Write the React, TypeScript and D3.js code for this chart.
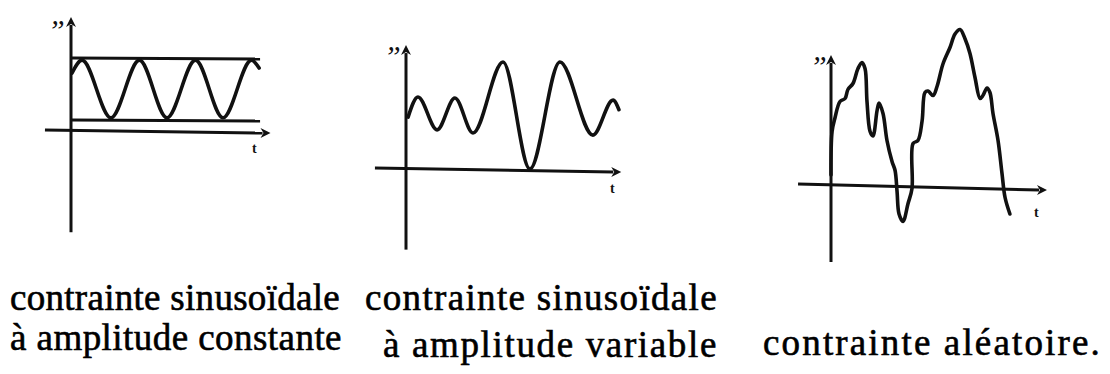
import React, { useLayoutEffect, useRef, useState } from "react";
import * as d3 from "d3";

// Three sketches of stress (σ) against time (t).

// 1) constant-amplitude sinusoid: extrema
const constTimes = [0.05, 0.58, 2.1, 3.6, 5.05, 6.55, 8.0, 9.5, 9.9];
const constStress = [7.9, 9.7, 1.7, 9.7, 1.7, 9.7, 1.7, 9.7, 8.6];
const constEnvelope = [10, 1.4]; // σmax, σmin
const envelopeSpan = [0.05, 9.95];

// 2) variable-amplitude sinusoid
const varTimes = [0.1, 0.57, 1.48, 2.33, 3.19, 4.62, 5.9, 7.33, 8.9, 9.86, 10.14];
const varStress = [4.8, 6.7, 3.6, 6.6, 3.3, 10, -0.1, 10, 3.1, 6.4, 5.5];

// 3) random loading
const randTimes = [
  0.0, 0.06, 0.22, 0.5, 0.78, 0.94, 1.22, 1.5, 1.72, 1.89, 2.0, 2.17, 2.33, 2.56,
  2.67, 2.89, 3.11, 3.39, 3.56, 3.67, 3.78, 4.0, 4.28, 4.5, 4.56, 4.83, 5.06, 5.22,
  5.39, 5.67, 5.89, 6.22, 6.61, 6.89, 7.17, 7.44, 7.72, 8.0, 8.28, 8.44, 8.67, 8.83,
  9.0, 9.28, 9.5, 9.67, 9.94,
];
const randStress = [
  0.6, 3.5, 4.4, 5.5, 5.7, 6.3, 6.7, 7.7, 8.1, 7.7, 5.5, 3.5, 3.2, 4.9,
  5.4, 4.7, 2.9, 1.5, 0.9, -0.5, -2.0, -2.5, -1.3, -0.3, 2.7, 2.9, 4.2, 6.1,
  6.2, 5.9, 6.5, 8.0, 9.1, 10.0, 10.3, 9.7, 8.7, 7.1, 5.7, 5.9, 6.4, 6.1,
  4.7, 2.9, 0.7, -0.9, -2.0,
];

const captionsConst = ["contrainte sinusoïdale", "à amplitude constante"];
const captionsVar = ["contrainte sinusoïdale", "à amplitude variable"];
const captionsRand = ["contrainte aléatoire."];

const AXIS_Y_LABEL = "\u201D";
const AXIS_X_LABEL = "t";

const INK = "#111";
const SERIF = "Liberation Serif";

type PanelCfg = {
  ox: number; // origin pixel x
  oy: number; // origin pixel y
  xUnit: number; // px per time unit
  yUnit: number; // px per stress unit
  tAxis: [number, number]; // x-axis extent (time units)
  sAxis: [number, number]; // y-axis extent (stress units)
  drop: number; // slight sag of the hand-drawn time axis (px)
  times: number[];
  stress: number[];
  curve: d3.CurveFactory;
  yLabel: [number, number];
  xLabel: [number, number];
  envelope?: boolean;
};

function Panel({ cfg }: { cfg: PanelCfg }) {
  const x = d3
    .scaleLinear()
    .domain([0, 10])
    .range([cfg.ox, cfg.ox + cfg.xUnit * 10]);
  const y = d3
    .scaleLinear()
    .domain([0, 10])
    .range([cfg.oy, cfg.oy - cfg.yUnit * 10]);

  const pts: [number, number][] = cfg.times.map((t, i) => [t, cfg.stress[i]]);
  const line = d3
    .line<[number, number]>()
    .x((d) => x(d[0]))
    .y((d) => y(d[1]))
    .curve(cfg.curve);

  const x0 = x(cfg.tAxis[0]);
  const x1 = x(cfg.tAxis[1]);
  const yL = y(0);
  const yR = y(0) + cfg.drop;
  const yTop = y(cfg.sAxis[1]);
  const yBot = y(cfg.sAxis[0]);
  const ax = x(0);

  const head = 10;
  const half = 5;

  return (
    <g>
      {/* time axis with arrow */}
      <line x1={x0} y1={yL} x2={x1 - head + 2} y2={yR} stroke={INK} strokeWidth={3} />
      <path
        d={`M${x1},${yR} L${x1 - head},${yR - half} L${x1 - head + 3},${yR} L${x1 - head},${yR + half} Z`}
        fill={INK}
      />
      {/* stress axis with arrow */}
      <line x1={ax} y1={yBot} x2={ax} y2={yTop + head - 2} stroke={INK} strokeWidth={3} />
      <path
        d={`M${ax},${yTop} L${ax - half},${yTop + head} L${ax},${yTop + head - 3} L${ax + half},${yTop + head} Z`}
        fill={INK}
      />
      {cfg.envelope &&
        constEnvelope.map((s, i) => (
          <line
            key={i}
            x1={x(envelopeSpan[0])}
            x2={x(envelopeSpan[1])}
            y1={y(s)}
            y2={y(s) + 1}
            stroke={INK}
            strokeWidth={3}
          />
        ))}
      <path
        d={line(pts) ?? ""}
        fill="none"
        stroke={INK}
        strokeWidth={3.6}
        strokeLinejoin="round"
        strokeLinecap="round"
      />
      <text
        x={cfg.yLabel[0]}
        y={cfg.yLabel[1]}
        fontFamily={SERIF}
        fontSize={30}
        fontStyle="italic"
        fill={INK}
      >
        {AXIS_Y_LABEL}
      </text>
      <text
        x={cfg.xLabel[0]}
        y={cfg.xLabel[1]}
        fontFamily={SERIF}
        fontSize={14}
        fontWeight="bold"
        fill={INK}
      >
        {AXIS_X_LABEL}
      </text>
    </g>
  );
}

const CAPTION_SIZE = 37;

// A caption line whose letter spacing is set so that it spans a target width.
function CaptionLine({ text, x, y, width }: { text: string; x: number; y: number; width: number }) {
  const ref = useRef<SVGTextElement>(null);
  const [spacing, setSpacing] = useState<number | null>(null);
  useLayoutEffect(() => {
    if (ref.current && spacing === null) {
      const w = ref.current.getComputedTextLength();
      if (w > 0) setSpacing((width - w) / text.length);
    }
  }, [text, width, spacing]);
  return (
    <text
      ref={ref}
      x={x}
      y={y}
      fontFamily={SERIF}
      fontSize={CAPTION_SIZE}
      fill="#000"
      stroke="#000"
      strokeWidth={0.6}
      style={{ letterSpacing: spacing === null ? 0 : `${spacing}px` }}
    >
      {text}
    </text>
  );
}

function Caption({
  lines,
  x,
  ys,
  widths,
}: {
  lines: string[];
  x: number[];
  ys: number[];
  widths: number[];
}) {
  return (
    <g>
      {lines.map((s, i) => (
        <CaptionLine key={i} text={s} x={x[i]} y={ys[i]} width={widths[i]} />
      ))}
    </g>
  );
}

export default function App() {
  const panels: PanelCfg[] = [
    {
      ox: 71,
      oy: 130,
      xUnit: 19,
      yUnit: 7.2,
      tAxis: [-1.37, 10.5],
      sAxis: [-14.2, 15.7],
      drop: 3,
      times: constTimes,
      stress: constStress,
      curve: d3.curveMonotoneX,
      yLabel: [48, 40],
      xLabel: [252, 153],
      envelope: true,
    },
    {
      ox: 406,
      oy: 168,
      xUnit: 21,
      yUnit: 10.6,
      tAxis: [-1.48, 10.25],
      sAxis: [-7.7, 11.6],
      drop: 4,
      times: varTimes,
      stress: varStress,
      curve: d3.curveMonotoneX,
      yLabel: [384, 66],
      xLabel: [610, 193],
      envelope: false,
    },
    {
      ox: 831,
      oy: 184,
      xUnit: 18,
      yUnit: 15,
      tAxis: [-1.83, 12],
      sAxis: [-5.2, 8.6],
      drop: 6,
      times: randTimes,
      stress: randStress,
      curve: d3.curveCatmullRom.alpha(0.5),
      yLabel: [810, 76],
      xLabel: [1034, 217],
      envelope: false,
    },
  ];

  return (
    <svg
      width={1110}
      height={374}
      viewBox="0 0 1110 374"
      style={{ position: "absolute", left: 0, top: 0, background: "#fff" }}
    >
      <rect width={1110} height={374} fill="#fff" />
      {panels.map((p, i) => (
        <Panel key={i} cfg={p} />
      ))}
      <Caption lines={captionsConst} x={[10, 10]} ys={[310, 350]} widths={[330, 332]} />
      <Caption lines={captionsVar} x={[365, 383]} ys={[310, 357]} widths={[353, 335]} />
      <Caption lines={captionsRand} x={[763]} ys={[355]} widths={[339]} />
    </svg>
  );
}
